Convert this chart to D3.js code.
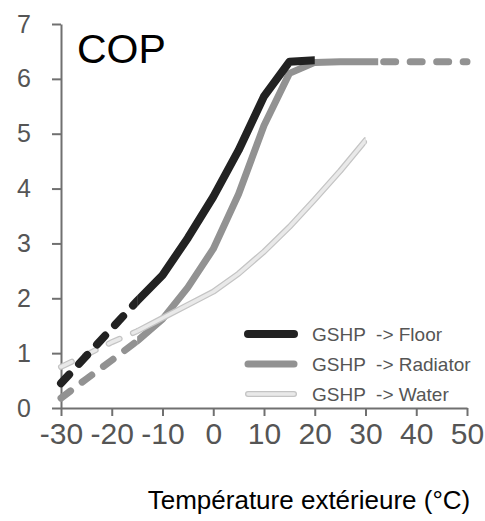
<!DOCTYPE html>
<html>
<head>
<meta charset="utf-8">
<script src="https://cdn.jsdelivr.net/npm/d3@7"></script>
<style>
  body { margin: 0; background: #fff; }
  svg { display: block; font-family: Arial, "Liberation Sans", sans-serif; }
</style>
</head>
<body>
<svg id="chart" width="485" height="521"></svg>
<script>
// temperatures (°C) where COP was read
const temps = [-30, -25, -20, -15, -10, -5, 0, 5, 10, 15, 20, 25, 30, 35, 40, 45, 50];
const floorCop = [0.45, 0.95, 1.45, 1.95, 2.42, 3.1, 3.85, 4.7, 5.68, 6.31, 6.34];
const radiatorCop = [0.18, 0.53, 0.87, 1.22, 1.62, 2.2, 2.9, 3.9, 5.15, 6.1, 6.3, 6.31, 6.31, 6.31, 6.31, 6.31, 6.31];
const waterCop = [0.75, 0.97, 1.2, 1.4, 1.64, 1.88, 2.12, 2.45, 2.85, 3.3, 3.8, 4.32, 4.88];
// temperature range drawn as a solid line, rest is dashed
const floorSolid = [-15, 20];
const radiatorSolid = [-15, 32.5];
const waterSolid = [-15, 30];

const seriesNames = ["GSHP  -> Floor", "GSHP  -> Radiator", "GSHP  -> Water"];
const xTicks = [-30, -20, -10, 0, 10, 20, 30, 40, 50];
const yTicks = [0, 1, 2, 3, 4, 5, 6, 7];

const svg = d3.select("#chart");

const x = d3.scaleLinear().domain([-30, 50]).range([61, 467]);
const y = d3.scaleLinear().domain([0, 7]).range([408, 24]);

const series = [
    { name: seriesNames[0], values: floorCop, solid: floorSolid, color: "#222", width: 8 },
    { name: seriesNames[1], values: radiatorCop, solid: radiatorSolid, color: "#929292", width: 7 },
    { name: seriesNames[2], values: waterCop, solid: waterSolid, color: "#e9e9e9", outline: "#c4c4c4", width: 6 }
];

// axes
const xAxis = svg.append("g")
    .attr("transform", "translate(0," + y(0) + ")")
    .call(d3.axisBottom(x).tickValues(xTicks).tickFormat(d => String(d))
        .tickSize(8).tickSizeOuter(0).tickPadding(6));

const yAxis = svg.append("g")
    .attr("transform", "translate(" + x(-30) + ",0)")
    .call(d3.axisLeft(y).tickValues(yTicks).tickFormat(d => String(d))
        .tickSize(9).tickSizeOuter(0).tickPadding(28));

[xAxis, yAxis].forEach(ax => {
    ax.select(".domain").attr("stroke", "#707070").attr("stroke-width", 2);
    ax.selectAll(".tick line").attr("stroke", "#707070").attr("stroke-width", 2);
    ax.selectAll(".tick text").attr("fill", "#555").style("font-family", "Arial, 'Liberation Sans', sans-serif");
});
xAxis.selectAll(".tick text").style("font-size", "30px").attr("dy", "0.72em");
yAxis.selectAll(".tick text").style("font-size", "25px").attr("text-anchor", "middle");

// clip paths for solid / dashed parts
const defs = svg.append("defs");
series.forEach((s, i) => {
    defs.append("clipPath").attr("id", "solid-" + i)
        .append("rect")
        .attr("x", x(s.solid[0])).attr("y", 0)
        .attr("width", x(s.solid[1]) - x(s.solid[0])).attr("height", 521);
    const dc = defs.append("clipPath").attr("id", "dash-" + i);
    dc.append("rect").attr("x", 0).attr("y", 0).attr("width", x(s.solid[0])).attr("height", 521);
    dc.append("rect").attr("x", x(s.solid[1])).attr("y", 0).attr("width", 485 - x(s.solid[1])).attr("height", 521);
});

const line = d3.line()
    .x(d => x(d[0]))
    .y(d => y(d[1]));

// draw order: radiator, water, floor on top
[1, 2, 0].forEach(i => {
    const s = series[i];
    const pts = s.values.map((v, j) => [temps[j], v]);
    const g = svg.append("g");
    const layers = s.outline
        ? [{ c: s.outline, w: s.width }, { c: s.color, w: s.width - 2.5 }]
        : [{ c: s.color, w: s.width }];
    layers.forEach(l => {
        g.append("path").datum(pts)
            .attr("d", line)
            .attr("fill", "none")
            .attr("stroke", l.c)
            .attr("stroke-width", l.w)
            .attr("stroke-linecap", "round")
            .attr("stroke-linejoin", "round")
            .attr("clip-path", "url(#solid-" + i + ")");
        g.append("path").datum(pts)
            .attr("d", line)
            .attr("fill", "none")
            .attr("stroke", l.c)
            .attr("stroke-width", l.w)
            .attr("stroke-linecap", "round")
            .attr("stroke-dasharray", "12 14.5")
            .attr("clip-path", "url(#dash-" + i + ")");
    });
});

// legend
const legend = svg.append("g");
series.forEach((s, i) => {
    const ly = 334 + i * 30;
    if (s.outline) {
        legend.append("line").attr("x1", 248).attr("x2", 294).attr("y1", ly).attr("y2", ly)
            .attr("stroke", s.outline).attr("stroke-width", s.width).attr("stroke-linecap", "round");
    }
    legend.append("line").attr("x1", 248).attr("x2", 294).attr("y1", ly).attr("y2", ly)
        .attr("stroke", s.color).attr("stroke-width", s.outline ? s.width - 2.5 : s.width)
        .attr("stroke-linecap", "round");
    legend.append("text")
        .attr("x", 312).attr("y", ly + 7)
        .attr("fill", "#555")
        .style("font-size", "19px")
        .style("white-space", "pre")
        .text(s.name);
});

// labels
svg.append("text")
    .attr("x", 77).attr("y", 63)
    .style("font-size", "41px")
    .attr("fill", "#000")
    .text("COP");

svg.append("text")
    .attr("x", 309).attr("y", 509)
    .attr("text-anchor", "middle")
    .style("font-size", "26px")
    .attr("fill", "#000")
    .text("Température extérieure (°C)");
</script>
</body>
</html>
